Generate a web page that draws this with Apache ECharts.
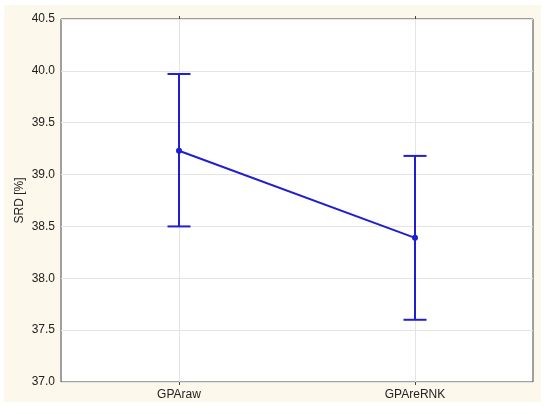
<!DOCTYPE html>
<html>
<head>
<meta charset="utf-8">
<script src="https://cdn.jsdelivr.net/npm/echarts@6/dist/echarts.min.js"></script>
<style>
  html, body { margin: 0; padding: 0; background: #ffffff; }
  #chart { position: absolute; left: 4px; top: 5px; width: 537px; height: 397px; }
</style>
</head>
<body>
<div id="chart"></div>
<script>
// groups on the x axis
var categories = ['GPAraw', 'GPAreRNK']
// mean SRD per group
var means = [39.23, 38.39]
// error bar limits
var lower = [38.50, 37.60]
var upper = [39.97, 39.18]

var blue = '#1f1fcf'

var chart = echarts.init(document.getElementById('chart'))

var barData = categories.map(function (c, i) {
  return [i, lower[i], upper[i]]
})

chart.setOption({
  backgroundColor: '#fdf8ec',
  animation: false,
  grid: {
    left: 57,
    top: 14,
    right: 8,
    bottom: 20,
    outerBoundsMode: 'none',
    show: true,
    backgroundColor: '#ffffff',
    borderColor: '#444444',
    borderWidth: 1
  },
  xAxis: [
    {
      type: 'category',
      data: categories,
      boundaryGap: true,
      axisLine: { show: false },
      axisTick: { show: true, alignWithLabel: true, length: 3, lineStyle: { color: '#444' } },
      axisLabel: { color: '#222', fontSize: 12, fontFamily: 'Arial, Liberation Sans, sans-serif', margin: 7 },
      splitLine: { show: true, alignWithLabel: true, lineStyle: { color: '#e4e4e4' } }
    },
    {
      type: 'category',
      data: categories,
      position: 'top',
      boundaryGap: true,
      axisLine: { show: false },
      axisTick: { show: true, alignWithLabel: true, length: 3, lineStyle: { color: '#444' } },
      axisLabel: { show: false },
      splitLine: { show: false }
    }
  ],
  yAxis: {
    type: 'value',
    min: 37,
    max: 40.5,
    interval: 0.5,
    name: 'SRD [%]',
    nameLocation: 'middle',
    nameGap: 35,
    nameMoveOverlap: false,
    nameTextStyle: { color: '#222', fontSize: 12, fontFamily: 'Arial, Liberation Sans, sans-serif' },
    axisLine: { show: false },
    axisTick: { show: false },
    axisLabel: {
      color: '#222',
      fontSize: 12,
      fontFamily: 'Arial, Liberation Sans, sans-serif',
      margin: 6,
      formatter: function (v) { return v.toFixed(1) }
    },
    splitLine: { show: true, lineStyle: { color: '#e4e4e4' } }
  },
  series: [
    {
      type: 'custom',
      data: barData,
      z: 3,
      renderItem: function (params, api) {
        var x = api.value(0)
        var lo = api.coord([x, api.value(1)])
        var hi = api.coord([x, api.value(2)])
        var half = 11.5
        var style = { stroke: blue, lineWidth: 2 }
        return {
          type: 'group',
          children: [
            { type: 'line', shape: { x1: lo[0], y1: lo[1], x2: hi[0], y2: hi[1] }, style: style },
            { type: 'line', shape: { x1: lo[0] - half, y1: lo[1], x2: lo[0] + half, y2: lo[1] }, style: style },
            { type: 'line', shape: { x1: hi[0] - half, y1: hi[1], x2: hi[0] + half, y2: hi[1] }, style: style }
          ]
        }
      }
    },
    {
      type: 'line',
      data: means,
      z: 4,
      symbol: 'circle',
      symbolSize: 6,
      itemStyle: { color: blue },
      lineStyle: { color: blue, width: 2 }
    }
  ]
})
</script>
</body>
</html>
